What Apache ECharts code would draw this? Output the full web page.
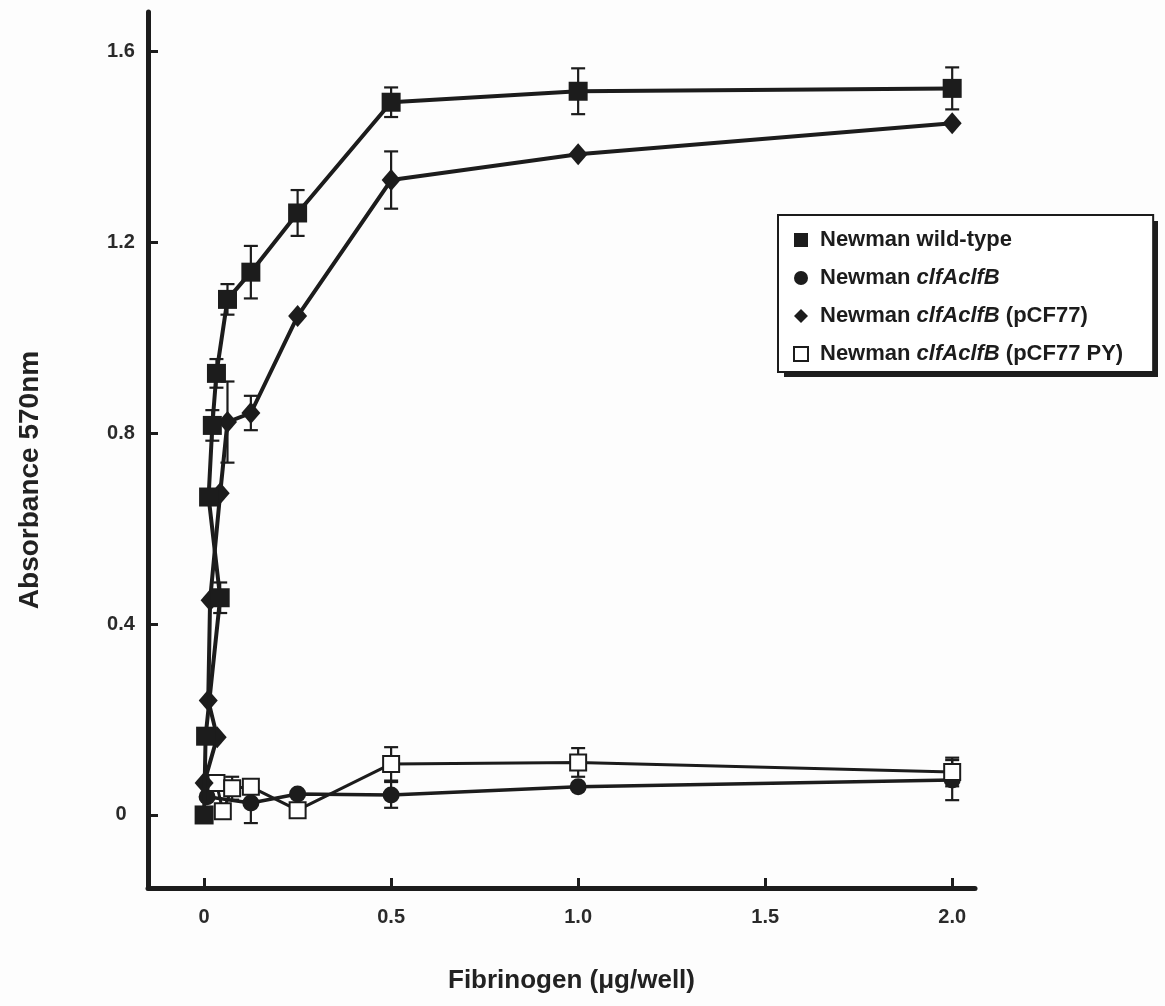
<!DOCTYPE html>
<html>
<head>
<meta charset="utf-8">
<script src="https://cdn.jsdelivr.net/npm/echarts@6/dist/echarts.min.js"></script>
<style>
html,body{margin:0;padding:0;background:#fdfdfd;}
#chart{width:1165px;height:1006px;}
</style>
</head>
<body>
<div id="chart"></div>
<script>
// ---- data ----
const seriesNames = ['Newman wild-type', 'Newman clfAclfB', 'Newman clfAclfB (pCF77)', 'Newman clfAclfB (pCF77 PY)'];

const wtX   = [0, 0.004, 0.043, 0.012, 0.022, 0.033, 0.0625, 0.125, 0.25, 0.5, 1.0, 2.0];
const wtY   = [0.0, 0.165, 0.455, 0.666, 0.816, 0.925, 1.08, 1.137, 1.261, 1.493, 1.516, 1.522];
const wtErr = [0, 0, 0.032, 0, 0.032, 0.03, 0.032, 0.055, 0.048, 0.031, 0.048, 0.044];

const dkX   = [0.008, 0.125, 0.25, 0.5, 1.0, 2.0];
const dkY   = [0.038, 0.025, 0.044, 0.042, 0.059, 0.073];
const dkErr = [0, 0.042, 0, 0.027, 0, 0.042];

const pcX   = [0, 0.035, 0.011, 0.016, 0.043, 0.0625, 0.125, 0.25, 0.5, 1.0, 2.0];
const pcY   = [0.067, 0.163, 0.24, 0.45, 0.674, 0.823, 0.842, 1.045, 1.33, 1.384, 1.449];
const pcErr = [0, 0, 0, 0, 0, 0.085, 0.036, 0, 0.06, 0, 0];

const pyX   = [0.033, 0.05, 0.075, 0.125, 0.25, 0.5, 1.0, 2.0];
const pyY   = [0.067, 0.008, 0.056, 0.059, 0.01, 0.107, 0.11, 0.09];
const pyErr = [0, 0, 0.024, 0, 0, 0.035, 0.03, 0.03];

const xTicks = [0, 0.5, 1.0, 1.5, 2.0];
const xTickLabels = ['0', '0.5', '1.0', '1.5', '2.0'];
const yTicks = [0, 0.4, 0.8, 1.2, 1.6];
const yTickLabels = ['0', '0.4', '0.8', '1.2', '1.6'];

// ---- build ----
const INK = '#1c1c1c';
const FONT = 'Liberation Sans, Arial, sans-serif';

function pairs(xs, ys) { return xs.map((x, i) => [x, ys[i]]); }
function errData(xs, ys, es) {
  const out = [];
  xs.forEach((x, i) => { if (es[i] > 0) out.push([x, ys[i], es[i]]); });
  return out;
}
function errSeries(xs, ys, es, z) {
  return {
    type: 'custom', z: z, silent: true, clip: false,
    data: errData(xs, ys, es),
    renderItem: function (params, api) {
      const x = api.value(0), y = api.value(1), e = api.value(2);
      const t = api.coord([x, y + e]), b = api.coord([x, y - e]);
      const hw = 7;
      const st = { stroke: INK, lineWidth: 2.2, fill: null };
      return { type: 'group', children: [
        { type: 'line', shape: { x1: t[0], y1: t[1], x2: b[0], y2: b[1] }, style: st },
        { type: 'line', shape: { x1: t[0] - hw, y1: t[1], x2: t[0] + hw, y2: t[1] }, style: st },
        { type: 'line', shape: { x1: b[0] - hw, y1: b[1], x2: b[0] + hw, y2: b[1] }, style: st }
      ]};
    }
  };
}

const chart = echarts.init(document.getElementById('chart'));
chart.setOption({
  animation: false,
  backgroundColor: '#fdfdfd',
  grid: { left: 148, right: 190, top: 12, bottom: 118, containLabel: false },
  graphic: [
    { type: 'rect', z: 0, zlevel: 0, silent: true,
      shape: { x: 784, y: 221, width: 374, height: 156 },
      style: { fill: '#1e1e1e' } }
  ],
  xAxis: {
    type: 'value', min: -0.15, max: 2.061,
    name: 'Fibrinogen (\u03bcg/well)', nameLocation: 'middle', nameGap: 80,
    nameTextStyle: { fontFamily: FONT, fontWeight: 'bold', fontSize: 26, color: '#222', padding: [0, 0, 0, 20] },
    axisLine: { show: true, onZero: false, lineStyle: { color: INK, width: 5 } },
    axisTick: { show: true, inside: true, length: 10, lineStyle: { color: INK, width: 3 }, customValues: xTicks },
    axisLabel: { show: true, margin: 19, fontFamily: FONT, fontWeight: 'bold', fontSize: 20, color: '#2a2a2a',
      customValues: xTicks,
      formatter: function (v) { const i = xTicks.findIndex(t => Math.abs(t - v) < 1e-9); return i >= 0 ? xTickLabels[i] : ''; } },
    splitLine: { show: false }
  },
  yAxis: {
    type: 'value', min: -0.153, max: 1.682,
    name: 'Absorbance 570nm', nameLocation: 'middle', nameGap: 104,
    nameTextStyle: { fontFamily: FONT, fontWeight: 'bold', fontSize: 28, color: '#222', padding: [0, 60, 0, 0] },
    axisLine: { show: true, onZero: false, lineStyle: { color: INK, width: 5 } },
    axisTick: { show: true, inside: true, length: 10, lineStyle: { color: INK, width: 3 }, customValues: yTicks },
    axisLabel: { show: true, margin: 27, align: 'center', fontFamily: FONT, fontWeight: 'bold', fontSize: 20, color: '#2a2a2a',
      customValues: yTicks,
      formatter: function (v) { const i = yTicks.findIndex(t => Math.abs(t - v) < 1e-9); return i >= 0 ? yTickLabels[i] : ''; } },
    splitLine: { show: false }
  },
  legend: {
    orient: 'vertical', left: 778, top: 215, z: 6,
    backgroundColor: '#ffffff', borderColor: INK, borderWidth: 2,
    padding: [12, 30, 5, 15], itemGap: 12, itemWidth: 14, itemHeight: 14,
    selectedMode: false,
    data: [
      { name: seriesNames[0], icon: 'rect' },
      { name: seriesNames[1], icon: 'circle' },
      { name: seriesNames[2], icon: 'diamond' },
      { name: seriesNames[3], icon: 'rect' }
    ],
    formatter: function (name) { return name.replace('clfAclfB', '{i|clfAclfB}'); },
    textStyle: {
      fontFamily: FONT, fontWeight: 'bold', fontSize: 22, color: INK, lineHeight: 26, padding: [0, 0, 0, 7],
      rich: { i: { fontFamily: FONT, fontWeight: 'bold', fontStyle: 'italic', fontSize: 22, color: INK, lineHeight: 26 } }
    }
  },
  series: [
    errSeries(dkX, dkY, dkErr, 1),
    errSeries(pyX, pyY, pyErr, 1),
    errSeries(pcX, pcY, pcErr, 1),
    errSeries(wtX, wtY, wtErr, 1),
    {
      name: seriesNames[1], type: 'line', z: 2, data: pairs(dkX, dkY),
      symbol: 'circle', symbolSize: 17, showAllSymbol: true,
      lineStyle: { color: INK, width: 3.5 },
      itemStyle: { color: INK, borderColor: INK, borderWidth: 0 }
    },
    {
      name: seriesNames[3], type: 'line', z: 3, data: pairs(pyX, pyY),
      symbol: 'rect', symbolSize: 16, showAllSymbol: true,
      lineStyle: { color: INK, width: 3 },
      itemStyle: { color: '#ffffff', borderColor: INK, borderWidth: 2 }
    },
    {
      name: seriesNames[2], type: 'line', z: 4, data: pairs(pcX, pcY),
      symbol: 'diamond', symbolSize: [19, 22], showAllSymbol: true,
      lineStyle: { color: INK, width: 4 },
      itemStyle: { color: INK, borderColor: INK, borderWidth: 0 }
    },
    {
      name: seriesNames[0], type: 'line', z: 5, data: pairs(wtX, wtY),
      symbol: 'rect', symbolSize: 19, showAllSymbol: true,
      lineStyle: { color: INK, width: 4 },
      itemStyle: { color: INK, borderColor: INK, borderWidth: 0 }
    }
  ]
});
</script>
</body>
</html>
